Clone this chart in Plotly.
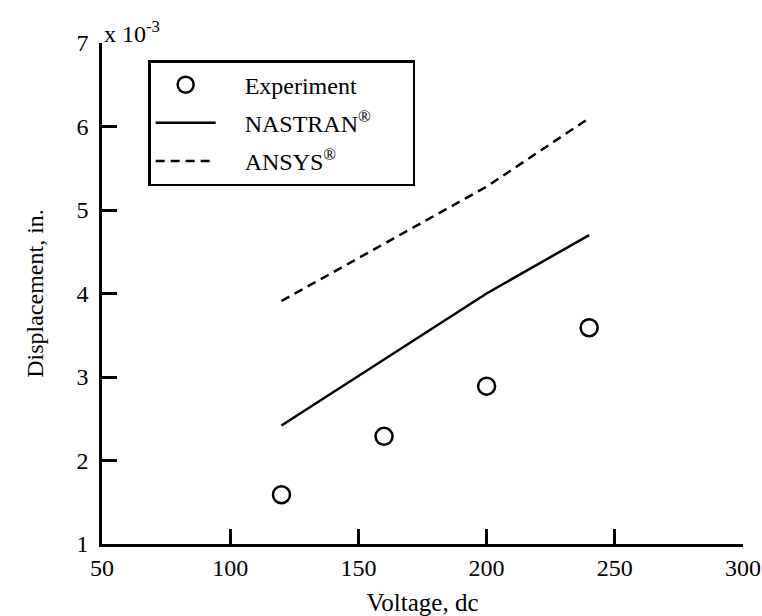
import plotly.graph_objects as go

voltage = [120, 160, 200, 240]
experiment = [1.59, 2.29, 2.89, 3.59]
nastran = [2.42, 3.21, 4.0, 4.7]
ansys = [3.91, 4.6, 5.28, 6.1]
x_ticks = [50, 100, 150, 200, 250, 300]
y_ticks = [1, 2, 3, 4, 5, 6, 7]

FONT = "Liberation Serif, Times New Roman, serif"
PAD = "&nbsp;" * 4
TAIL = "&nbsp;" * 6

fig = go.Figure()
fig.add_trace(go.Scatter(
    x=voltage, y=experiment, mode="markers", name=PAD + "Experiment" + TAIL, legendgroup="a",
    marker=dict(symbol="circle-open", size=17, color="black", line=dict(width=2.5, color="black")),
))
fig.add_trace(go.Scatter(
    x=voltage, y=nastran, mode="lines", name=PAD + "NASTRAN<sup>®</sup>" + TAIL, legendgroup="b",
    line=dict(color="black", width=2.5),
))
fig.add_trace(go.Scatter(
    x=voltage, y=ansys, mode="lines", name=PAD + "ANSYS<sup>®</sup>" + TAIL, legendgroup="c",
    line=dict(color="black", width=2.5, dash="9px,6px"),
))

axis_common = dict(
    showline=True, linecolor="black", linewidth=2.5,
    ticks="inside", ticklen=15, tickwidth=2.5, tickcolor="black",
    showgrid=False, zeroline=False, mirror=False,
    tickfont=dict(family=FONT, size=24, color="black"),
)

fig.update_layout(
    template="none",
    width=762, height=616,
    margin=dict(l=102, r=19, t=43, b=72),
    paper_bgcolor="white", plot_bgcolor="white",
    font=dict(family=FONT, size=24, color="black"),
    showlegend=True,
    legend=dict(
        x=0.072, y=0.966, xanchor="left", yanchor="top",
        bordercolor="black", borderwidth=2.5, bgcolor="white",
        font=dict(family=FONT, size=24, color="black"),
        itemwidth=60, tracegroupgap=4,
    ),
    xaxis=dict(
        range=[50, 300], tickvals=x_ticks, ticktext=[str(v) for v in x_ticks],
        automargin=False,
        title=dict(text="Voltage, dc", font=dict(family=FONT, size=25, color="black")),
        **axis_common,
    ),
    yaxis=dict(
        range=[1, 7], tickvals=y_ticks, ticktext=[str(v) for v in y_ticks],
        automargin=False, ticklabelstandoff=6,
        title=dict(text="Displacement, in.", font=dict(family=FONT, size=24, color="black")),
        **axis_common,
    ),
)

fig.add_annotation(
    x=0, y=1, xref="paper", yref="paper", xanchor="left", yanchor="bottom",
    text="x 10<sup>-3</sup>", showarrow=False, xshift=0, yshift=-6,
    font=dict(family=FONT, size=24, color="black"),
)

fig.write_html("out.html")
